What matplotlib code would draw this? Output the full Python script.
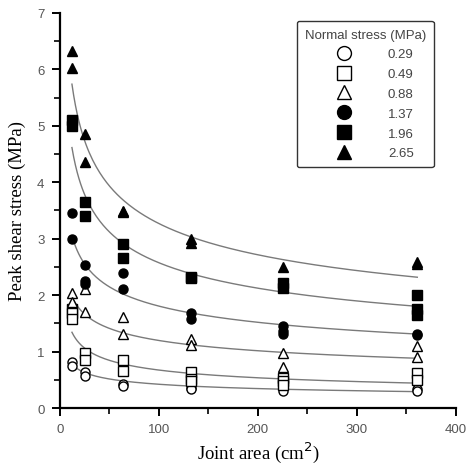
import numpy as np
import matplotlib
matplotlib.use("Agg")
import matplotlib.pyplot as plt
from matplotlib.lines import Line2D

# joint areas (cm^2) used in the tests
AREAS = [12.25, 25.0, 64.0, 132.25, 225.0, 361.0]

STRESS_LABELS = ["0.29", "0.49", "0.88", "1.37", "1.96", "2.65"]
MARKERS = ["o", "s", "^", "o", "s", "^"]
FILLED = [False, False, False, True, True, True]

# measured peak shear stress (MPa), one list per area
PEAK_029 = [[0.82, 0.75], [0.63, 0.57], [0.42, 0.39], [0.36, 0.33], [0.37, 0.31], [0.33, 0.30]]
PEAK_049 = [[1.75, 1.68, 1.57], [0.97, 0.85], [0.85, 0.66], [0.63, 0.52, 0.47], [0.54, 0.47, 0.40], [0.62, 0.50]]
PEAK_088 = [[2.03, 1.88], [2.10, 1.70], [1.62, 1.32], [1.22, 1.11], [0.98, 0.72], [1.10, 0.90]]
PEAK_137 = [[3.46, 3.00], [2.53, 2.25, 2.20], [2.39, 2.10], [1.69, 1.57], [1.45, 1.37, 1.31], [1.31, 1.29]]
PEAK_196 = [[5.10, 5.00], [3.65, 3.40], [2.90, 2.66], [2.33, 2.31], [2.22, 2.12], [2.00, 1.75, 1.65]]
PEAK_265 = [[6.33, 6.02], [4.85, 4.35], [3.49, 3.47], [2.99, 2.92], [2.49], [2.58, 2.55]]
PEAKS = [PEAK_029, PEAK_049, PEAK_088, PEAK_137, PEAK_196, PEAK_265]

# power-law fits  tau = a * A^b
FIT_A = [1.60, 3.06, 3.58, 5.71, 9.26, 11.23]
FIT_B = [-0.290, -0.329, -0.238, -0.250, -0.278, -0.268]

plt.rcParams["font.family"] = "Liberation Sans"

fig = plt.figure(figsize=(4.71, 4.64), dpi=100)
ax = fig.add_axes([0.127, 0.1185, 0.841, 0.8515])

xs = np.linspace(AREAS[0], AREAS[-1], 200)
for a, b in zip(FIT_A, FIT_B):
    ax.plot(xs, a * xs ** b, color="#7a7a7a", linewidth=1.0, zorder=1)

for peaks, marker, filled in zip(PEAKS, MARKERS, FILLED):
    px, py = [], []
    for area, vals in zip(AREAS, peaks):
        px += [area] * len(vals)
        py += vals
    ms = 7 if marker == "^" else 6.5
    ax.plot(px, py, linestyle="none", marker=marker, markersize=ms,
            markerfacecolor="black" if filled else "white",
            markeredgecolor="black", markeredgewidth=1.0, zorder=3)

ax.set_xlim(0, 400)
ax.set_ylim(0, 7)
ax.set_xticks(np.arange(0, 401, 100))
ax.set_xticks(np.arange(50, 400, 100), minor=True)
ax.set_yticks(np.arange(0, 8, 1))
ax.set_yticks(np.arange(0.5, 7, 1), minor=True)

for side in ["top", "right"]:
    ax.spines[side].set_visible(False)
for side in ["left", "bottom"]:
    ax.spines[side].set_linewidth(1.6)

ax.tick_params(which="major", direction="out", length=6, width=1.4,
               labelsize=9.5, labelcolor="#555555", pad=5)
ax.tick_params(which="minor", direction="out", length=4, width=1.2)

ax.set_xlabel("Joint area (cm$^2$)", family="Liberation Serif", fontsize=13.5, labelpad=3)
ax.set_ylabel("Peak shear stress (MPa)", family="Liberation Serif", fontsize=13.5, labelpad=8)

handles = []
for marker, filled in zip(MARKERS, FILLED):
    handles.append(Line2D([], [], linestyle="none", marker=marker, markersize=10,
                          markerfacecolor="black" if filled else "white",
                          markeredgecolor="black", markeredgewidth=1.0))
leg = ax.legend(handles, STRESS_LABELS, title="Normal stress (MPa)",
                loc="upper left", bbox_to_anchor=(0.598, 0.98), fontsize=9.5,
                title_fontsize=9.5, frameon=True, fancybox=True, edgecolor="black",
                handlelength=4.1, handletextpad=1.3, labelspacing=0.57,
                borderpad=0.6, borderaxespad=0)
leg.get_frame().set_linewidth(1.0)
for t in leg.get_texts():
    t.set_color("#444444")
leg.get_title().set_color("#444444")

fig.savefig("out.png", dpi=100)
